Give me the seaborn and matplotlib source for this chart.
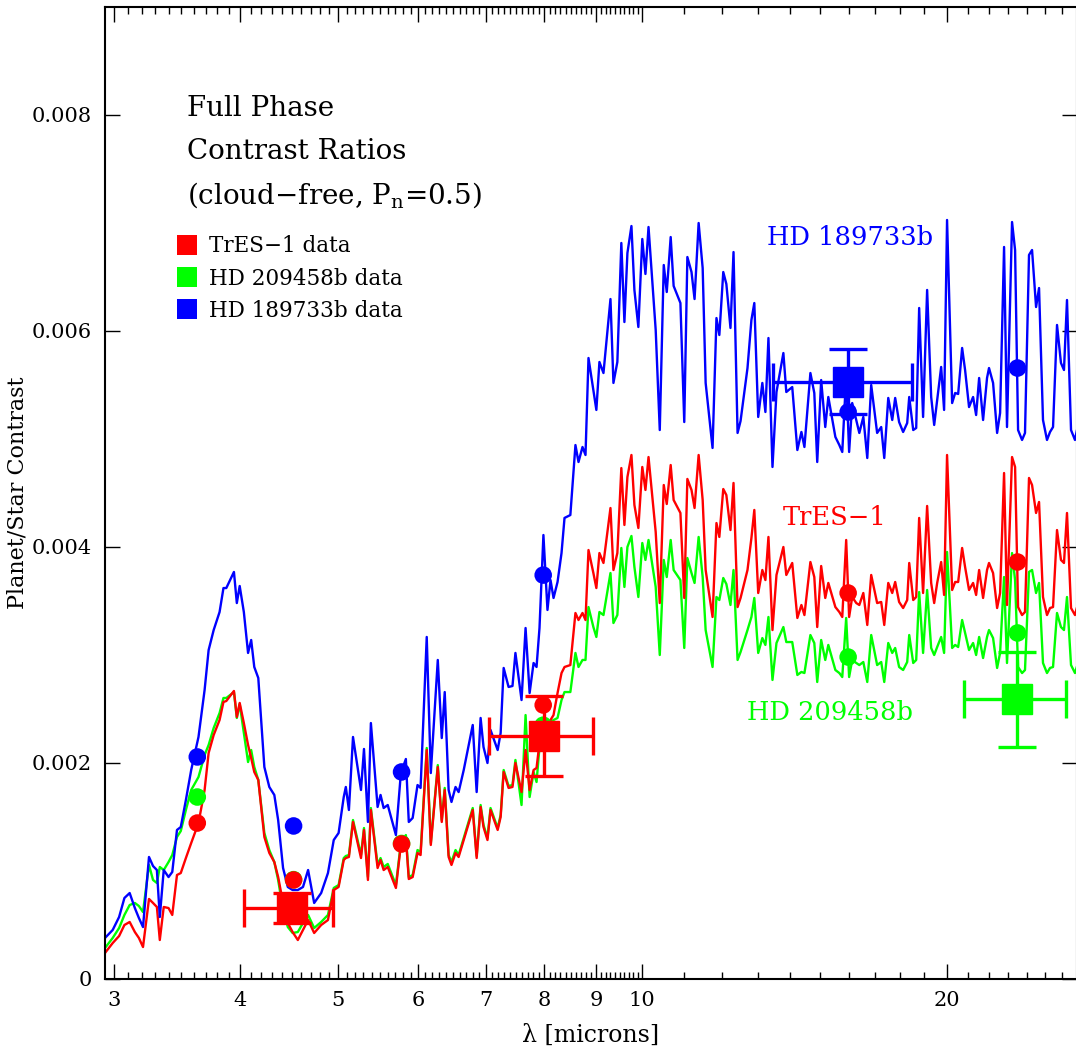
import numpy as np
import pandas as pd
import matplotlib
matplotlib.use("Agg")
import matplotlib.pyplot as plt
from matplotlib.lines import Line2D
from matplotlib.ticker import FixedLocator, FixedFormatter, NullFormatter
import seaborn as sns

# ---------------- data (contrast values in units of 1e-3) ----------------
wavelength = [
    2.942, 2.994, 3.038, 3.075, 3.112, 3.149, 3.178, 3.208, 3.252, 3.282,
    3.311, 3.333, 3.363, 3.400, 3.429, 3.466, 3.496, 3.537, 3.580, 3.640,
    3.691, 3.725, 3.768, 3.819, 3.853, 3.878, 3.912, 3.946, 3.972, 3.998,
    4.036, 4.075, 4.104, 4.133, 4.171, 4.229, 4.277, 4.326, 4.364, 4.413,
    4.461, 4.510, 4.564, 4.618, 4.672, 4.737, 4.813, 4.888, 4.953, 5.008,
    5.067, 5.091, 5.127, 5.175, 5.270, 5.306, 5.354, 5.390, 5.473, 5.510,
    5.549, 5.601, 5.706, 5.771, 5.837, 5.876, 5.928, 5.994, 6.036, 6.121,
    6.178, 6.277, 6.334, 6.377, 6.434, 6.476, 6.536, 6.582, 6.659, 6.797,
    6.858, 6.920, 6.966, 7.029, 7.078, 7.194, 7.243, 7.293, 7.375, 7.441,
    7.491, 7.596, 7.666, 7.737, 7.807, 7.860, 7.913, 7.984, 8.058, 8.114,
    8.170, 8.245, 8.320, 8.377, 8.489, 8.588, 8.648, 8.727, 8.787, 8.847,
    8.946, 9.007, 9.070, 9.154, 9.301, 9.364, 9.448, 9.534, 9.601, 9.667,
    9.756, 9.822, 9.911, 10.000, 10.072, 10.143, 10.310, 10.406, 10.501, 10.573,
    10.668, 10.740, 10.907, 11.003, 11.081, 11.186, 11.264, 11.369, 11.474, 11.552,
    11.735, 11.840, 11.918, 12.025, 12.110, 12.224, 12.309, 12.423, 12.508, 12.707,
    12.821, 12.906, 13.021, 13.144, 13.236, 13.328, 13.451, 13.574, 13.789, 13.881,
    14.070, 14.235, 14.367, 14.466, 14.664, 14.795, 14.894, 15.028, 15.169, 15.275,
    15.522, 15.663, 15.768, 15.909, 16.016, 16.129, 16.279, 16.392, 16.542, 16.692,
    16.842, 17.071, 17.230, 17.350, 17.509, 17.668, 17.787, 17.947, 18.112, 18.280,
    18.365, 18.533, 18.659, 18.785, 18.954, 19.129, 19.306, 19.439, 19.572, 19.750,
    19.883, 20.017, 20.250, 20.390, 20.530, 20.716, 20.856, 21.045, 21.240, 21.387,
    21.534, 21.729, 21.925, 22.024, 22.229, 22.434, 22.587, 22.792, 22.945, 23.210,
    23.371, 23.531, 23.745, 23.905, 24.124, 24.292, 24.515, 24.682, 24.905, 25.133,
    25.307, 25.481, 25.713, 25.945, 26.124, 26.304, 26.546, 26.787, 27.030,
]

hd189733b_model = [
    0.380, 0.454, 0.574, 0.750, 0.796, 0.657, 0.565, 0.481, 1.130, 1.046,
    1.009, 0.574, 1.009, 0.944, 0.991, 1.380, 1.407, 1.657, 1.935, 2.241,
    2.676, 3.046, 3.231, 3.398, 3.620, 3.620, 3.694, 3.769, 3.481, 3.639,
    3.398, 3.019, 3.139, 2.889, 2.787, 1.963, 1.778, 1.704, 1.472, 1.028,
    0.852, 0.824, 0.824, 0.852, 1.009, 0.704, 0.796, 0.981, 1.287, 1.352,
    1.685, 1.778, 1.565, 2.241, 1.750, 2.130, 1.454, 2.370, 1.593, 1.704,
    1.583, 1.611, 1.333, 1.907, 2.037, 1.454, 1.491, 1.796, 1.769, 3.167,
    1.907, 2.954, 2.231, 2.657, 1.750, 1.639, 1.778, 1.731, 1.935, 2.352,
    1.731, 2.417, 2.148, 2.000, 2.306, 2.120, 2.278, 2.880, 2.704, 2.713,
    3.019, 2.583, 3.250, 2.648, 2.926, 2.889, 3.250, 4.111, 3.417, 3.694,
    3.528, 3.676, 3.944, 4.269, 4.296, 4.944, 4.787, 4.926, 4.852, 5.750,
    5.454, 5.269, 5.713, 5.611, 6.296, 5.519, 5.713, 6.815, 6.083, 6.722,
    6.972, 6.380, 6.037, 6.852, 6.528, 6.963, 6.009, 5.083, 6.611, 6.361,
    6.870, 6.417, 6.259, 5.157, 6.685, 6.546, 6.296, 7.000, 6.583, 5.519,
    4.917, 6.120, 5.963, 6.546, 6.435, 6.028, 6.731, 5.056, 5.167, 5.657,
    6.102, 6.259, 5.204, 5.519, 5.250, 5.935, 4.741, 5.435, 5.796, 5.435,
    5.481, 4.898, 5.065, 4.926, 5.611, 5.426, 4.787, 5.546, 5.111, 5.389,
    5.019, 4.944, 4.880, 5.593, 4.880, 5.333, 5.176, 5.056, 5.204, 4.824,
    5.500, 5.056, 5.111, 4.824, 5.380, 5.176, 5.380, 5.157, 5.065, 5.148,
    5.389, 5.083, 5.102, 6.213, 5.204, 6.380, 5.389, 5.130, 5.361, 5.667,
    5.269, 7.028, 5.333, 5.426, 5.417, 5.843, 5.639, 5.296, 5.389, 5.222,
    5.565, 5.176, 5.565, 5.657, 5.519, 5.056, 5.241, 6.778, 5.111, 7.009,
    6.750, 5.083, 4.991, 5.056, 6.704, 6.750, 6.222, 6.398, 5.176, 4.991,
    5.065, 5.111, 6.056, 5.704, 5.639, 6.287, 5.083, 4.991, 5.176,
]

tres1_model = [
    0.241, 0.333, 0.398, 0.500, 0.528, 0.435, 0.380, 0.296, 0.741, 0.704,
    0.667, 0.361, 0.667, 0.657, 0.593, 0.963, 0.981, 1.120, 1.259, 1.444,
    1.750, 2.093, 2.259, 2.398, 2.565, 2.574, 2.620, 2.667, 2.426, 2.556,
    2.370, 2.167, 2.046, 1.917, 1.843, 1.315, 1.167, 1.083, 0.944, 0.704,
    0.519, 0.435, 0.361, 0.454, 0.546, 0.426, 0.500, 0.546, 0.824, 0.852,
    1.102, 1.120, 1.130, 1.454, 1.120, 1.380, 0.917, 1.565, 1.028, 1.102,
    1.009, 1.037, 0.843, 1.241, 1.306, 0.926, 0.944, 1.167, 1.148, 2.120,
    1.241, 1.963, 1.454, 1.750, 1.130, 1.056, 1.167, 1.130, 1.287, 1.565,
    1.120, 1.593, 1.407, 1.287, 1.565, 1.380, 1.500, 1.917, 1.769, 1.778,
    2.000, 1.731, 2.120, 1.750, 1.935, 1.954, 2.185, 2.306, 2.352, 2.398,
    2.444, 2.648, 2.833, 2.889, 2.907, 3.389, 3.324, 3.389, 3.324, 3.972,
    3.759, 3.620, 3.944, 3.852, 4.361, 3.787, 3.944, 4.731, 4.204, 4.648,
    4.852, 4.389, 4.176, 4.741, 4.528, 4.833, 4.139, 3.481, 4.574, 4.398,
    4.759, 4.435, 4.315, 3.528, 4.630, 4.528, 4.361, 4.852, 4.435, 3.787,
    3.352, 4.222, 4.093, 4.537, 4.481, 4.157, 4.593, 3.444, 3.528, 3.787,
    4.083, 4.343, 3.574, 3.787, 3.694, 4.093, 3.231, 3.741, 4.000, 3.741,
    3.852, 3.343, 3.463, 3.370, 3.861, 3.722, 3.259, 3.824, 3.528, 3.667,
    3.444, 3.398, 3.352, 4.065, 3.352, 3.537, 3.481, 3.463, 3.574, 3.278,
    3.741, 3.481, 3.491, 3.278, 3.667, 3.574, 3.676, 3.491, 3.435, 3.509,
    3.852, 3.509, 3.537, 4.269, 3.574, 4.380, 3.667, 3.481, 3.667, 3.861,
    3.556, 4.852, 3.602, 3.676, 3.676, 3.991, 3.815, 3.602, 3.667, 3.556,
    3.787, 3.528, 3.787, 3.852, 3.759, 3.435, 3.574, 4.685, 3.463, 4.833,
    4.741, 3.444, 3.370, 3.398, 4.639, 4.574, 4.315, 4.417, 3.537, 3.370,
    3.435, 3.444, 4.157, 3.880, 3.852, 4.315, 3.435, 3.370, 3.509,
]

hd209458b_model = [
    0.287, 0.380, 0.472, 0.593, 0.685, 0.704, 0.676, 0.620, 1.056, 0.917,
    0.889, 1.037, 1.009, 1.083, 1.148, 1.315, 1.370, 1.565, 1.750, 1.870,
    2.074, 2.167, 2.324, 2.463, 2.602, 2.602, 2.630, 2.657, 2.417, 2.546,
    2.278, 2.009, 2.120, 1.963, 1.843, 1.352, 1.194, 1.083, 0.917, 0.639,
    0.481, 0.426, 0.435, 0.519, 0.593, 0.472, 0.528, 0.593, 0.843, 0.870,
    1.120, 1.139, 1.148, 1.472, 1.148, 1.398, 0.944, 1.583, 1.056, 1.120,
    1.037, 1.065, 0.870, 1.259, 1.333, 0.944, 0.963, 1.194, 1.176, 2.139,
    1.259, 1.981, 1.472, 1.769, 1.148, 1.083, 1.194, 1.148, 1.306, 1.583,
    1.139, 1.611, 1.426, 1.306, 1.583, 1.398, 1.519, 1.935, 1.787, 1.796,
    2.028, 1.611, 2.444, 1.685, 1.917, 1.824, 2.148, 2.259, 2.380, 2.380,
    2.398, 2.417, 2.583, 2.657, 2.657, 3.019, 2.889, 2.954, 2.954, 3.444,
    3.259, 3.167, 3.398, 3.370, 3.759, 3.296, 3.370, 3.991, 3.630, 4.000,
    4.102, 3.815, 3.537, 4.037, 3.880, 4.065, 3.630, 3.000, 3.880, 3.722,
    4.065, 3.787, 3.694, 3.065, 3.898, 3.759, 3.667, 4.093, 3.722, 3.231,
    2.889, 3.537, 3.509, 3.713, 3.657, 3.463, 3.787, 2.954, 3.028, 3.231,
    3.352, 3.528, 3.019, 3.157, 3.093, 3.352, 2.769, 3.111, 3.259, 3.120,
    3.120, 2.815, 2.843, 2.833, 3.185, 3.111, 2.750, 3.139, 2.954, 3.093,
    2.861, 2.833, 2.796, 3.343, 2.796, 2.954, 2.926, 2.907, 2.935, 2.750,
    3.185, 2.907, 2.935, 2.750, 3.111, 3.019, 3.065, 2.889, 2.861, 2.935,
    3.185, 2.926, 2.954, 3.583, 3.019, 3.602, 3.065, 3.000, 3.074, 3.167,
    3.019, 3.954, 3.065, 3.093, 3.074, 3.324, 3.204, 3.046, 3.111, 3.000,
    3.167, 2.972, 3.167, 3.231, 3.157, 2.880, 3.019, 3.722, 2.926, 3.944,
    3.694, 2.889, 2.833, 2.861, 3.769, 3.787, 3.574, 3.667, 2.926, 2.833,
    2.880, 2.889, 3.389, 3.259, 3.231, 3.537, 2.907, 2.833, 2.954,
]

# band-averaged model predictions (circles), units of 1e-3
band_wavelength = [3.63, 4.52, 5.78, 7.98, 15.98, 23.5]
band_hd209458b = [1.685, 0.920, 1.255, 2.350, 2.981, 3.204]
band_tres1 = [1.444, 0.917, 1.250, 2.537, 3.574, 3.861]
band_hd189733b = [2.056, 1.417, 1.917, 3.740, 5.250, 5.657]

# observations (squares with error bars), units of 1e-3
obs_planet = ["TrES-1", "TrES-1", "HD 189733b", "HD 209458b"]
obs_wavelength = [4.5, 8.0, 15.98, 23.5]
obs_contrast = [0.66, 2.25, 5.53, 2.59]
obs_err = [0.14, 0.37, 0.30, 0.44]
obs_xerr_low = [0.46, 0.94, 2.50, 2.69]
obs_xerr_high = [0.45, 0.94, 2.51, 2.73]

planets = ["HD 209458b", "TrES-1", "HD 189733b"]
colors = {"HD 209458b": "#00ff00", "TrES-1": "#ff0000", "HD 189733b": "#0000ff"}

x_major = [3, 4, 5, 6, 7, 8, 9, 10, 20]
x_major_labels = ["3", "4", "5", "6", "7", "8", "9", "10", "20"]
y_ticks = [0.0, 0.002, 0.004, 0.006, 0.008]
y_tick_labels = ["0", "0.002", "0.004", "0.006", "0.008"]

# ---------------- build frames ----------------
scale = 1e-3
n = len(wavelength)
df = pd.DataFrame({
    "wavelength": wavelength * 3,
    "contrast": np.array(hd209458b_model + tres1_model + hd189733b_model) * scale,
    "planet": ["HD 209458b"] * n + ["TrES-1"] * n + ["HD 189733b"] * n,
})
m = len(band_wavelength)
df_band = pd.DataFrame({
    "wavelength": band_wavelength * 3,
    "contrast": np.array(band_hd209458b + band_tres1 + band_hd189733b) * scale,
    "planet": ["HD 209458b"] * m + ["TrES-1"] * m + ["HD 189733b"] * m,
})

# ---------------- style ----------------
sns.set_style("ticks")
plt.rcParams["font.family"] = ["DejaVu Serif"]
plt.rcParams["mathtext.fontset"] = "dejavuserif"
plt.rcParams["text.color"] = "black"
plt.rcParams["axes.labelcolor"] = "black"
plt.rcParams["xtick.color"] = "black"
plt.rcParams["ytick.color"] = "black"

fig = plt.figure(figsize=(10.76, 10.53), dpi=100)
ax = fig.add_axes([105 / 1076, 1 - 979 / 1053, 972 / 1076, 972 / 1053])

sns.lineplot(data=df, x="wavelength", y="contrast", hue="planet",
             hue_order=planets, palette=colors, estimator=None, sort=False,
             legend=False, linewidth=1.7, ax=ax)

sns.scatterplot(data=df_band, x="wavelength", y="contrast", hue="planet",
                hue_order=planets, palette=colors, s=160, linewidth=0,
                legend=False, ax=ax, zorder=4)

for i in range(len(obs_planet)):
    c = colors[obs_planet[i]]
    ax.errorbar([obs_wavelength[i]], [obs_contrast[i] * scale],
                yerr=[[obs_err[i] * scale], [obs_err[i] * scale]],
                xerr=[[obs_xerr_low[i]], [obs_xerr_high[i]]],
                fmt="s", color=c, mfc=c, mec=c, ms=21, elinewidth=2.4,
                capsize=14, capthick=2.4, zorder=5)

ax.set_xscale("log")
ax.set_xlim(2.942, 26.91)
ax.set_ylim(0, 0.009)

ax.xaxis.set_major_locator(FixedLocator(x_major))
ax.xaxis.set_major_formatter(FixedFormatter(x_major_labels))
minor = [round(v, 1) for v in np.arange(3.1, 10.0, 0.1) if abs(v - round(v)) > 1e-6]
minor += [v for v in range(11, 27) if v != 20]
ax.xaxis.set_minor_locator(FixedLocator(minor))
ax.xaxis.set_minor_formatter(NullFormatter())
ax.set_yticks(y_ticks)
ax.set_yticklabels(y_tick_labels)
ax.yaxis.set_minor_locator(FixedLocator([]))

ax.tick_params(which="both", direction="in", top=True, right=True,
               colors="black", labelcolor="black", labelsize=15)
ax.tick_params(which="major", length=10.5, width=1.0)
ax.tick_params(which="minor", length=5.2, width=1.0)
ax.tick_params(axis="x", which="major", pad=9)
ax.tick_params(axis="y", which="major", pad=9.5)
for s in ax.spines.values():
    s.set_linewidth(1.5)
    s.set_color("black")

ax.set_xlabel("λ [microns]", fontsize=17, color="black")
ax.set_ylabel("Planet/Star Contrast", fontsize=16, color="black")
ax.xaxis.set_label_coords(0.5, -0.046)
ax.yaxis.set_label_coords(-0.079, 0.5)

# title block
title_kw = dict(transform=ax.transAxes, fontsize=20, va="center", ha="left", color="black")
ax.text(0.0844, 0.896, "Full Phase", **title_kw)
ax.text(0.0844, 0.851, "Contrast Ratios", **title_kw)
ax.text(0.0844, 0.8066, "(cloud\u2212free, P$_\\mathrm{n}$=0.5)", **title_kw)

# curve labels
ax.text(16.05, 0.00687, "HD 189733b", color=colors["HD 189733b"], fontsize=18.5,
        ha="center", va="center")
ax.text(15.5, 0.00427, "TrES\u22121", color=colors["TrES-1"], fontsize=18.5,
        ha="center", va="center")
ax.text(15.34, 0.002463, "HD 209458b", color=colors["HD 209458b"], fontsize=18.5,
        ha="center", va="center")

# legend
handles = [Line2D([], [], marker="s", ls="none", color=colors[p], markersize=13.7, mew=0)
           for p in ["TrES-1", "HD 209458b", "HD 189733b"]]
labels = ["TrES\u22121 data", "HD 209458b data", "HD 189733b data"]
leg = ax.legend(handles, labels, loc="upper left",
                bbox_to_anchor=(176.8 / 1076, 1 - 235.5 / 1053),
                bbox_transform=fig.transFigure, frameon=False, fontsize=15.5,
                handlelength=0.95, handletextpad=0.55, labelspacing=0.47,
                borderpad=0, borderaxespad=0)
for t in leg.get_texts():
    t.set_color("black")

fig.savefig("out.png", dpi=100)
